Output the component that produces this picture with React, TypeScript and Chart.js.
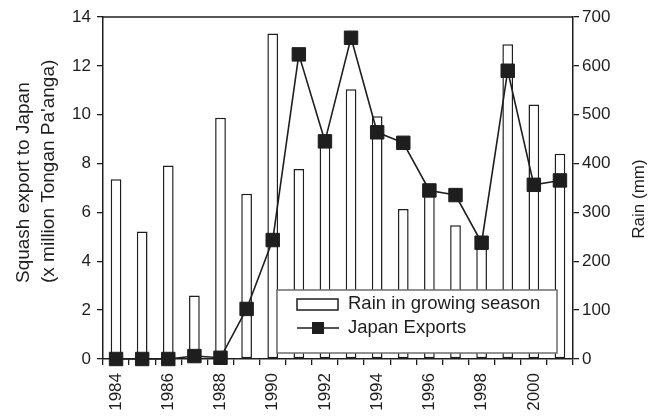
import React, { useEffect, useRef } from "react";
import { Chart, registerables } from "chart.js";

Chart.register(...registerables);

const years = ["1984","1985","1986","1987","1988","1989","1990","1991","1992","1993","1994","1995","1996","1997","1998","1999","2000","2001"];
const rainMm = [368, 261, 396, 130, 494, 338, 666, 389, 445, 552, 497, 307, 340, 274, 235, 644, 521, 420];
const japanExports = [0, 0, 0, 0.12, 0.05, 2.05, 4.87, 12.47, 8.91, 13.15, 9.28, 8.85, 6.9, 6.71, 4.76, 11.8, 7.13, 7.31];
const leftTitle = ["Squash export to Japan", "(x million Tongan Pa'anga)"];
const rightTitle = "Rain (mm)";
const legendLabels = ["Rain in growing season", "Japan Exports"];

const FONT = "'Liberation Sans', Arial, Helvetica, sans-serif";
const INK = "#1e1e1e";

const framePlugin = {
  id: "frameAndTitles",
  afterDraw(chart: any) {
    const { ctx, chartArea } = chart;
    ctx.save();
    // top frame line
    ctx.strokeStyle = INK;
    ctx.lineWidth = 1.5;
    ctx.beginPath();
    ctx.moveTo(chartArea.left, chartArea.top);
    ctx.lineTo(chartArea.right, chartArea.top);
    ctx.stroke();

    // axis titles
    ctx.fillStyle = INK;
    ctx.textBaseline = "middle";
    ctx.font = `19px ${FONT}`;
    ctx.textAlign = "left";
    const lx = [24, 49];
    leftTitle.forEach((t, i) => {
      ctx.save();
      ctx.translate(lx[i], 283);
      ctx.rotate(-Math.PI / 2);
      ctx.fillText(t, 0, 0);
      ctx.restore();
    });
    ctx.save();
    ctx.textAlign = "center";
    ctx.font = `17px ${FONT}`;
    ctx.translate(639, 199);
    ctx.rotate(-Math.PI / 2);
    ctx.fillText(rightTitle, 0, 0);
    ctx.restore();

    // legend box
    const bx = 277, by = 290, bw = 280, bh = 63;
    ctx.fillStyle = "#ffffff";
    ctx.fillRect(bx, by, bw, bh);
    ctx.strokeStyle = "#6e6e6e";
    ctx.lineWidth = 1.5;
    ctx.strokeRect(bx, by, bw, bh);
    // entry 1: bar swatch
    ctx.strokeStyle = INK;
    ctx.lineWidth = 1.5;
    ctx.fillStyle = "#ffffff";
    ctx.fillRect(297, 299, 41, 11);
    ctx.strokeRect(297, 299, 41, 11);
    // entry 2: line + marker
    ctx.beginPath();
    ctx.moveTo(297, 328);
    ctx.lineTo(339, 328);
    ctx.stroke();
    ctx.fillStyle = INK;
    ctx.fillRect(312, 322, 12, 12);
    // texts
    ctx.fillStyle = INK;
    ctx.textAlign = "left";
    ctx.textBaseline = "middle";
    ctx.font = `18.5px ${FONT}`;
    ctx.fillText(legendLabels[0], 348, 304);
    ctx.fillText(legendLabels[1], 348, 328);
    ctx.restore();
  },
};

export default function App() {
  const canvasRef = useRef<HTMLCanvasElement | null>(null);

  useEffect(() => {
    if (!canvasRef.current) return;
    const chart = new Chart(canvasRef.current, {
      type: "bar",
      data: {
        labels: years,
        datasets: [
          {
            type: "line",
            label: legendLabels[1],
            data: japanExports,
            yAxisID: "y",
            borderColor: INK,
            borderWidth: 1.6,
            backgroundColor: INK,
            pointStyle: "rect",
            pointRadius: 9.5,
            pointBorderWidth: 1,
            pointBorderColor: INK,
            pointBackgroundColor: INK,
            tension: 0,
            clip: false,
            order: 0,
          } as any,
          {
            type: "bar",
            label: legendLabels[0],
            data: rainMm,
            yAxisID: "y1",
            backgroundColor: "#ffffff",
            borderColor: INK,
            borderWidth: 1.5,
            borderSkipped: false,
            barPercentage: 0.41,
            categoryPercentage: 1,
            order: 1,
          } as any,
        ],
      },
      options: {
        responsive: false,
        animation: false,
        devicePixelRatio: 1,
        layout: { padding: { top: 17, left: 0, right: 0, bottom: 0 } },
        plugins: { legend: { display: false }, tooltip: { enabled: false } },
        scales: {
          x: {
            type: "category",
            offset: true,
            afterFit: (s: any) => { s.height = 57; },
            grid: { display: true, offset: true, drawOnChartArea: false, drawTicks: true, tickLength: 6, color: INK, lineWidth: 1.3 },
            border: { display: true, color: INK, width: 1.5 },
            ticks: {
              autoSkip: false,
              minRotation: 90,
              maxRotation: 90,
              padding: 8,
              color: INK,
              font: { family: FONT, size: 17 },
              callback: (_v: any, i: number) => (i % 2 === 0 ? years[i] : ""),
            },
          },
          y: {
            position: "left",
            min: 0,
            max: 14,
            afterFit: (s: any) => { s.width = 103; },
            grid: { display: true, drawOnChartArea: false, drawTicks: true, tickLength: 6, color: INK, lineWidth: 1.3 },
            border: { display: true, color: INK, width: 1.5 },
            ticks: { stepSize: 2, padding: 6, color: INK, font: { family: FONT, size: 17 } },
          },
          y1: {
            position: "right",
            min: 0,
            max: 700,
            afterFit: (s: any) => { s.width = 76; },
            grid: { display: true, drawOnChartArea: false, drawTicks: true, tickLength: 6, color: INK, lineWidth: 1.3 },
            border: { display: true, color: INK, width: 1.5 },
            ticks: { stepSize: 100, padding: 3, color: INK, font: { family: FONT, size: 17 } },
          },
        },
      },
      plugins: [framePlugin],
    });
    return () => chart.destroy();
  }, []);

  return (
    <div style={{ position: "fixed", left: 0, top: 0, width: 649, height: 416, background: "#fff" }}>
      <canvas ref={canvasRef} width={649} height={416} />
    </div>
  );
}
